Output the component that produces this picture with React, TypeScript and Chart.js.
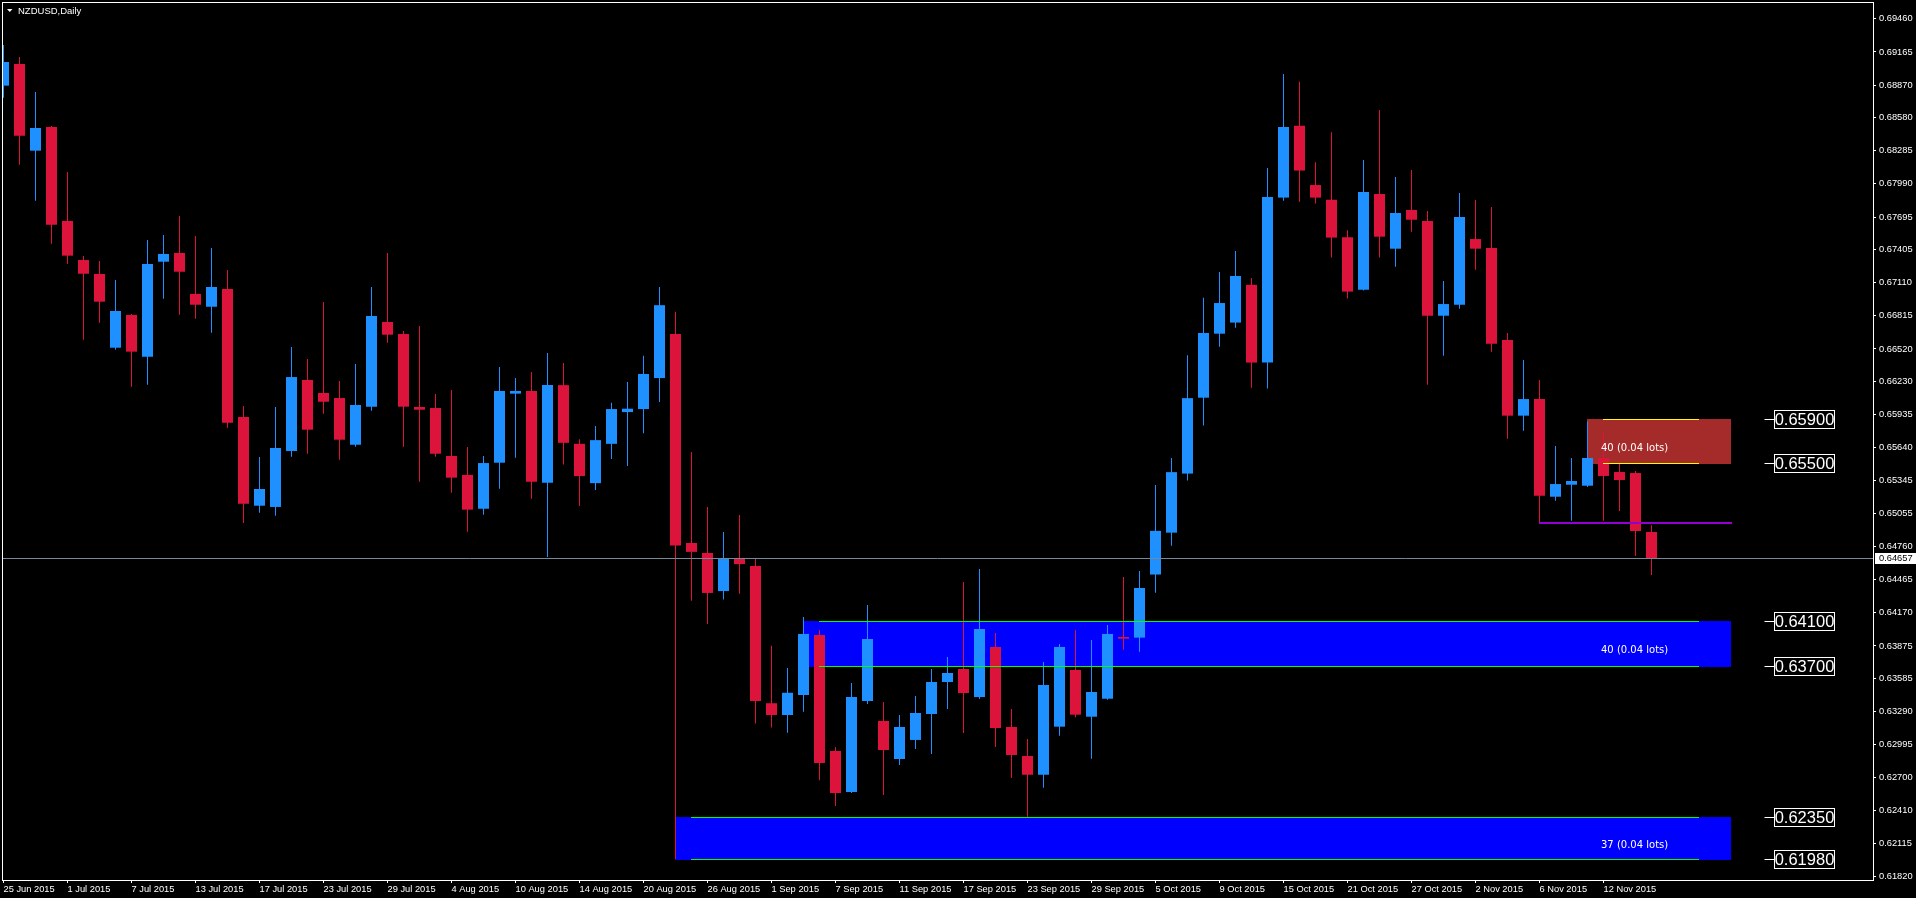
import React, { useEffect, useRef } from 'react';
import { Chart, registerables } from 'chart.js';

Chart.register(...registerables);

// ---- data (NZDUSD Daily, 25 Jun 2015 .. 17 Nov 2015) ----
const openPrices = [
  0.68865, 0.69058, 0.68286, 0.68497, 0.67660, 0.67312, 0.67188, 0.66531, 0.66823, 0.66451,
  0.67297, 0.67375, 0.67010, 0.66896, 0.67054, 0.65914, 0.65124, 0.65113, 0.65611, 0.66244,
  0.66128, 0.66083, 0.65667, 0.66006, 0.66760, 0.66653, 0.66003, 0.65994, 0.65567, 0.65398,
  0.65097, 0.65507, 0.66122, 0.66146, 0.65329, 0.66198, 0.65675, 0.65325, 0.65675, 0.65958,
  0.65985, 0.66261, 0.66653, 0.64792, 0.64703, 0.64364, 0.64657, 0.64587, 0.63365, 0.63260,
  0.63438, 0.63973, 0.62940, 0.62574, 0.63385, 0.63207, 0.62868, 0.63038, 0.63269, 0.63554,
  0.63670, 0.63420, 0.63866, 0.63153, 0.62895, 0.62728, 0.63156, 0.63661, 0.63245, 0.63405,
  0.63955, 0.63949, 0.64511, 0.64884, 0.65410, 0.66086, 0.66656, 0.66755, 0.67091, 0.66399,
  0.67868, 0.68508, 0.67980, 0.67849, 0.67515, 0.67048, 0.67900, 0.67413, 0.67758, 0.67660,
  0.66816, 0.66914, 0.67499, 0.67419, 0.66600, 0.65926, 0.66074, 0.65204, 0.65311, 0.65302,
  0.65549, 0.65424, 0.65415, 0.64890,
];
const highPrices = [
  0.69227, 0.69120, 0.68809, 0.68506, 0.68096, 0.67348, 0.67303, 0.67134, 0.66831, 0.67491,
  0.67535, 0.67704, 0.67526, 0.67419, 0.67223, 0.66012, 0.65558, 0.66003, 0.66538, 0.66431,
  0.66938, 0.66235, 0.66386, 0.67072, 0.67375, 0.66680, 0.66725, 0.66119, 0.66155, 0.65647,
  0.65567, 0.66359, 0.66261, 0.66315, 0.66484, 0.66396, 0.65717, 0.65833, 0.66041, 0.66225,
  0.66459, 0.67072, 0.66851, 0.65602, 0.65112, 0.64891, 0.65042, 0.64657, 0.63876, 0.63679,
  0.64133, 0.64017, 0.62975, 0.63545, 0.64240, 0.63376, 0.63260, 0.63429, 0.63670, 0.63777,
  0.64445, 0.64560, 0.63990, 0.63314, 0.63046, 0.63732, 0.63892, 0.64017, 0.63928, 0.64062,
  0.64489, 0.64543, 0.65309, 0.65549, 0.66465, 0.66976, 0.67206, 0.67393, 0.67153, 0.68132,
  0.68968, 0.68899, 0.68184, 0.68451, 0.67578, 0.68204, 0.68648, 0.68052, 0.68114, 0.67749,
  0.67125, 0.67909, 0.67847, 0.67784, 0.66662, 0.66422, 0.66244, 0.65656, 0.65549, 0.65874,
  0.65781, 0.65522, 0.65433, 0.64950,
];
const lowPrices = [
  0.68758, 0.68161, 0.67841, 0.67458, 0.67279, 0.66603, 0.66754, 0.66514, 0.66184, 0.66202,
  0.66968, 0.66825, 0.66790, 0.66665, 0.65819, 0.64970, 0.65062, 0.65035, 0.65561, 0.65587,
  0.65944, 0.65534, 0.65650, 0.65970, 0.66576, 0.65650, 0.65338, 0.65561, 0.65240, 0.64893,
  0.65044, 0.65276, 0.65552, 0.65187, 0.64667, 0.65490, 0.65122, 0.65263, 0.65540, 0.65477,
  0.65770, 0.66047, 0.61978, 0.64278, 0.64071, 0.64288, 0.64340, 0.63184, 0.63148, 0.63102,
  0.63290, 0.62680, 0.62450, 0.62565, 0.63358, 0.62548, 0.62815, 0.62957, 0.62913, 0.63314,
  0.63100, 0.63403, 0.62975, 0.62699, 0.62346, 0.62613, 0.63076, 0.63240, 0.62871, 0.63396,
  0.63842, 0.63824, 0.64349, 0.64768, 0.65348, 0.65838, 0.66540, 0.66709, 0.66175, 0.66168,
  0.67841, 0.67832, 0.67816, 0.67335, 0.66969, 0.67041, 0.67334, 0.67253, 0.67564, 0.66202,
  0.66460, 0.66879, 0.67226, 0.66496, 0.65721, 0.65792, 0.64973, 0.65169, 0.64991, 0.65291,
  0.64991, 0.65077, 0.64676, 0.64507,
];
const closePrices = [
  0.69076, 0.68419, 0.68488, 0.67627, 0.67351, 0.67190, 0.66941, 0.66858, 0.66496, 0.67277,
  0.67366, 0.67208, 0.66914, 0.67072, 0.65863, 0.65142, 0.65273, 0.65638, 0.66270, 0.65801,
  0.66050, 0.65712, 0.66021, 0.66814, 0.66647, 0.66006, 0.65979, 0.65587, 0.65374, 0.65089,
  0.65504, 0.66146, 0.66146, 0.65338, 0.66199, 0.65684, 0.65388, 0.65708, 0.65985, 0.65988,
  0.66297, 0.66910, 0.64769, 0.64713, 0.64347, 0.64657, 0.64604, 0.63385, 0.63260, 0.63458,
  0.63982, 0.62833, 0.62565, 0.63420, 0.63937, 0.62948, 0.63153, 0.63278, 0.63554, 0.63634,
  0.63456, 0.64026, 0.63144, 0.62904, 0.62728, 0.63527, 0.63866, 0.63263, 0.63465, 0.63982,
  0.63940, 0.64391, 0.64900, 0.65423, 0.66082, 0.66662, 0.66929, 0.67170, 0.66399, 0.67874,
  0.68497, 0.68109, 0.67868, 0.67512, 0.67031, 0.67917, 0.67520, 0.67731, 0.67671, 0.66816,
  0.66920, 0.67695, 0.67413, 0.66567, 0.65926, 0.66074, 0.65213, 0.65317, 0.65344, 0.65549,
  0.65389, 0.65353, 0.64899, 0.64657,
];

const xTickIndex = [0, 4, 8, 12, 16, 20, 24, 28, 32, 36, 40, 44, 48, 52, 56, 60, 64, 68, 72, 76, 80, 84, 88, 92, 96, 100];
const xTickLabels = [
  '25 Jun 2015', '1 Jul 2015', '7 Jul 2015', '13 Jul 2015', '17 Jul 2015', '23 Jul 2015', '29 Jul 2015',
  '4 Aug 2015', '10 Aug 2015', '14 Aug 2015', '20 Aug 2015', '26 Aug 2015', '1 Sep 2015', '7 Sep 2015',
  '11 Sep 2015', '17 Sep 2015', '23 Sep 2015', '29 Sep 2015', '5 Oct 2015', '9 Oct 2015', '15 Oct 2015',
  '21 Oct 2015', '27 Oct 2015', '2 Nov 2015', '6 Nov 2015', '12 Nov 2015',
];
const yTickValues = [
  0.69460, 0.69165, 0.68870, 0.68580, 0.68285, 0.67990, 0.67695, 0.67405, 0.67110, 0.66815,
  0.66520, 0.66230, 0.65935, 0.65640, 0.65345, 0.65055, 0.64760, 0.64465, 0.64170, 0.63875,
  0.63585, 0.63290, 0.62995, 0.62700, 0.62410, 0.62115, 0.61820,
];

const chartTitle = 'NZDUSD,Daily';
const bidPrice = 0.64657;

// order zones (bar index range, price range)
const zoneStart = [99, 50, 42];
const zoneEnd = [108, 108, 108];
const zoneHigh = [0.659, 0.641, 0.6235];
const zoneLow = [0.655, 0.637, 0.6198];
const zoneLineStart = [100, 51, 43];
const zoneLineEnd = [106, 106, 106];
const zoneLabels = ['40 (0.04 lots)', '40 (0.04 lots)', '37 (0.04 lots)'];
const zoneLabelBar = 100;

const pivotPrice = 0.6497;
const pivotStart = 96;
const pivotEnd = 108;

const tagLevels = [0.659, 0.655, 0.641, 0.637, 0.6235, 0.6198];

// ---- styling ----
const W = 1916;
const H = 898;
const UP = '#1E90FF';
const DOWN = '#DC143C';
const ZONE_FILL = ['#A52A2A', '#0000FF', '#0000FF'];
const ZONE_LINE = ['#FFFF00', '#00FF00', '#00FF00'];
const FONT = 'Liberation Sans';

const X_MIN = -0.09375;
const X_MAX = 116.84375;
const Y_MIN = 0.617906;
const Y_MAX = 0.696101;

const overlayPlugin = {
  id: 'mtOverlay',
  beforeDatasetsDraw(chart: any) {
    const { ctx, chartArea: ca } = chart;
    const xs = chart.scales.x;
    const ys = chart.scales.y;
    ctx.save();
    ctx.beginPath();
    ctx.rect(ca.left, ca.top, ca.right - ca.left, ca.bottom - ca.top);
    ctx.clip();
    zoneStart.forEach((s, k) => {
      const x0 = xs.getPixelForValue(s) - 0.5;
      const x1 = xs.getPixelForValue(zoneEnd[k]) - 0.5;
      const y0 = Math.round(ys.getPixelForValue(zoneHigh[k]));
      const y1 = Math.round(ys.getPixelForValue(zoneLow[k])) + 1;
      ctx.fillStyle = ZONE_FILL[k];
      ctx.fillRect(x0, y0, x1 - x0, y1 - y0);
    });
    ctx.restore();
  },
  afterDatasetsDraw(chart: any) {
    const { ctx, chartArea: ca } = chart;
    const xs = chart.scales.x;
    const ys = chart.scales.y;
    ctx.save();
    ctx.beginPath();
    ctx.rect(ca.left, ca.top, ca.right - ca.left, ca.bottom - ca.top);
    ctx.clip();

    // bid line
    const by = Math.round(ys.getPixelForValue(bidPrice)) + 0.5;
    ctx.strokeStyle = '#778899';
    ctx.lineWidth = 1;
    ctx.beginPath();
    ctx.moveTo(ca.left, by);
    ctx.lineTo(ca.right, by);
    ctx.stroke();

    // zone edge lines
    zoneStart.forEach((_s, k) => {
      const x0 = xs.getPixelForValue(zoneLineStart[k]) - 0.5;
      const x1 = xs.getPixelForValue(zoneLineEnd[k]) - 0.5;
      ctx.strokeStyle = ZONE_LINE[k];
      ctx.lineWidth = 1;
      [zoneHigh[k], zoneLow[k]].forEach((p) => {
        const yy = Math.round(ys.getPixelForValue(p)) + 0.5;
        ctx.beginPath();
        ctx.moveTo(x0, yy);
        ctx.lineTo(x1, yy);
        ctx.stroke();
      });
    });

    // pivot line
    const py = Math.round(ys.getPixelForValue(pivotPrice));
    ctx.strokeStyle = '#9400D3';
    ctx.lineWidth = 2;
    ctx.beginPath();
    ctx.moveTo(xs.getPixelForValue(pivotStart) - 0.5, py);
    ctx.lineTo(xs.getPixelForValue(pivotEnd) + 0.5, py);
    ctx.stroke();

    // zone labels
    ctx.fillStyle = '#FFFFFF';
    ctx.font = '10px "DejaVu Sans"';
    ctx.textAlign = 'left';
    ctx.textBaseline = 'middle';
    zoneLabels.forEach((t, k) => {
      const mid = (ys.getPixelForValue(zoneHigh[k]) + ys.getPixelForValue(zoneLow[k])) / 2;
      ctx.fillText(t, xs.getPixelForValue(zoneLabelBar) - 2.5, mid + 7);
    });
    ctx.restore();
  },
  afterDraw(chart: any) {
    const { ctx, chartArea: ca } = chart;
    const ys = chart.scales.y;
    ctx.save();
    // frame
    ctx.strokeStyle = '#FFFFFF';
    ctx.lineWidth = 1;
    ctx.strokeRect(ca.left + 0.5, ca.top + 0.5, ca.right - ca.left, ca.bottom - ca.top);

    // title
    ctx.fillStyle = '#FFFFFF';
    ctx.beginPath();
    ctx.moveTo(7, 9);
    ctx.lineTo(12.5, 9);
    ctx.lineTo(9.75, 12);
    ctx.closePath();
    ctx.fill();
    ctx.font = `9.5px "${FONT}"`;
    ctx.textAlign = 'left';
    ctx.textBaseline = 'middle';
    ctx.fillText(chartTitle, 18, 11);

    // price tags
    ctx.font = `16.5px "${FONT}"`;
    ctx.textAlign = 'center';
    tagLevels.forEach((p) => {
      const yy = Math.round(ys.getPixelForValue(p));
      const bx = ca.right - 98.5;
      ctx.strokeStyle = '#FFFFFF';
      ctx.beginPath();
      ctx.moveTo(bx - 10, yy + 0.5);
      ctx.lineTo(bx, yy + 0.5);
      ctx.stroke();
      ctx.strokeRect(bx, yy - 8.5, 60, 18);
      ctx.fillStyle = '#FFFFFF';
      ctx.fillText(p.toFixed(5), bx + 30, yy + 1);
    });

    // bid price box on axis
    const by = Math.round(ys.getPixelForValue(bidPrice));
    ctx.fillStyle = '#FFFFFF';
    ctx.fillRect(ca.right + 2, by - 5, W - ca.right - 2, 11);
    ctx.fillStyle = '#000000';
    ctx.font = `9.3px "${FONT}"`;
    ctx.textAlign = 'left';
    ctx.fillText(bidPrice.toFixed(5), ca.right + 6, by + 0.5);
    ctx.restore();
  },
};

export default function App() {
  const ref = useRef<HTMLCanvasElement>(null);

  useEffect(() => {
    const canvas = ref.current;
    if (!canvas) return;
    const colors = openPrices.map((o, i) => (closePrices[i] >= o ? UP : DOWN));
    const bodies = openPrices.map((o, i) => ({ x: i, y: [o, closePrices[i]] }));
    const wicks = lowPrices.map((l, i) => ({ x: i, y: [l, highPrices[i]] }));

    const chart = new Chart(canvas, {
      type: 'bar',
      data: {
        datasets: [
          {
            label: 'body',
            data: bodies as any,
            backgroundColor: colors,
            barThickness: 11,
            maxBarThickness: 11,
            grouped: false,
            minBarLength: 1,
            inflateAmount: 0,
            borderWidth: 0,
            order: 0,
          } as any,
          {
            label: 'wick',
            data: wicks as any,
            backgroundColor: colors,
            barThickness: 1,
            maxBarThickness: 1,
            grouped: false,
            inflateAmount: 0,
            borderWidth: 0,
            order: 1,
          } as any,
        ],
      },
      options: {
        animation: false,
        responsive: false,
        maintainAspectRatio: false,
        devicePixelRatio: 1,
        layout: { padding: { left: 2, top: 2, right: 0, bottom: 0 } },
        plugins: { legend: { display: false }, tooltip: { enabled: false } },
        events: [],
        scales: {
          x: {
            type: 'linear',
            position: 'bottom',
            min: X_MIN,
            max: X_MAX,
            offset: false,
            grid: { display: true, offset: false, drawOnChartArea: false, drawTicks: true, tickLength: 3, color: '#FFFFFF' },
            border: { display: false },
            ticks: {
              autoSkip: false,
              maxRotation: 0,
              minRotation: 0,
              align: 'start',
              padding: 1,
              color: '#FFFFFF',
              font: { family: FONT, size: 9.3 },
              callback: (v: any) => {
                const k = xTickIndex.indexOf(Number(v));
                return k >= 0 ? xTickLabels[k] : '';
              },
            },
            afterBuildTicks: (s: any) => {
              s.ticks = xTickIndex.map((v) => ({ value: v }));
            },
            afterFit: (s: any) => {
              s.height = 18;
              s.paddingLeft = 0;
              s.paddingRight = 0;
              s.paddingTop = 0;
              s.paddingBottom = 0;
            },
          },
          y: {
            type: 'linear',
            position: 'right',
            min: Y_MIN,
            max: Y_MAX,
            grid: { display: true, drawOnChartArea: false, drawTicks: true, tickLength: 3, color: '#FFFFFF' },
            border: { display: false },
            ticks: {
              autoSkip: false,
              padding: 3,
              color: '#FFFFFF',
              font: { family: FONT, size: 9.3 },
              callback: (v: any) => Number(v).toFixed(5),
            },
            afterBuildTicks: (s: any) => {
              s.ticks = yTickValues.map((v) => ({ value: v }));
            },
            afterFit: (s: any) => {
              s.width = 43;
              s.paddingLeft = 0;
              s.paddingRight = 0;
              s.paddingTop = 0;
              s.paddingBottom = 0;
            },
          },
        },
      } as any,
      plugins: [overlayPlugin],
    });
    return () => chart.destroy();
  }, []);

  return (
    <div style={{ position: 'fixed', left: 0, top: 0, width: W, height: H, background: '#000000', overflow: 'hidden' }}>
      <canvas ref={ref} width={W} height={H} style={{ display: 'block', width: W, height: H }} />
    </div>
  );
}
